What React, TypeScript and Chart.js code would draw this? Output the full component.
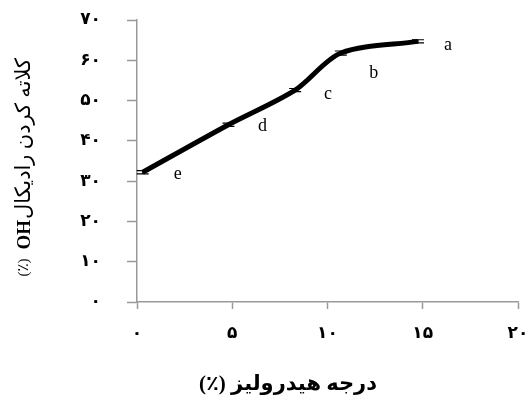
import React, { useEffect, useRef } from "react";
import { Chart, registerables } from "chart.js";

Chart.register(...registerables);

const hydrolysis = [0.3, 4.8, 8.3, 10.7, 14.75];
const chelating = [32.2, 44.0, 52.6, 61.8, 64.7];
const errors = [0.4, 0.4, 0.4, 0.5, 0.4];
const pointLabels = ["e", "d", "c", "b", "a"];
const labelOffsets = [[35, 2], [34, 2], [33, 4], [33, 20], [30, 4]];
const xTickLabels: Record<number, string> = { 0: "۰", 5: "۵", 10: "۱۰", 15: "۱۵", 20: "۲۰" };
const yTickLabels: Record<number, string> = { 0: "۰", 10: "۱۰", 20: "۲۰", 30: "۳۰", 40: "۴۰", 50: "۵۰", 60: "۶۰", 70: "۷۰" };
const xTitle = "درجه هیدرولیز (٪)";
const yTitleText = "کلاته کردن رادیکال";
const yTitleOH = "OH";
const yTitleUnit = "(٪)";

const FONT = "'Liberation Serif', 'DejaVu Sans', serif";

const overlay = {
  id: "overlay",
  afterDatasetsDraw(chart: any) {
    const ctx = chart.ctx;
    const xs = chart.scales.x;
    const ys = chart.scales.y;
    ctx.save();
    ctx.strokeStyle = "#000";
    ctx.lineWidth = 1.2;
    hydrolysis.forEach((xv, i) => {
      const px = xs.getPixelForValue(xv);
      const top = ys.getPixelForValue(chelating[i] + errors[i]);
      const bot = ys.getPixelForValue(chelating[i] - errors[i]);
      ctx.beginPath();
      ctx.moveTo(px - 6, top); ctx.lineTo(px + 6, top);
      ctx.moveTo(px - 6, bot); ctx.lineTo(px + 6, bot);
      ctx.moveTo(px, top); ctx.lineTo(px, bot);
      ctx.stroke();
    });
    ctx.fillStyle = "#000";
    ctx.font = "18px 'Liberation Serif', serif";
    ctx.textAlign = "center";
    ctx.textBaseline = "middle";
    hydrolysis.forEach((xv, i) => {
      const px = xs.getPixelForValue(xv);
      const py = ys.getPixelForValue(chelating[i]);
      ctx.fillText(pointLabels[i], px + labelOffsets[i][0], py + labelOffsets[i][1]);
    });
    // x title
    ctx.save();
    ctx.direction = "rtl";
    ctx.font = "bold 21px " + FONT;
    ctx.fillText(xTitle, 288, 385);
    ctx.restore();
    // y title (rotated), pieces laid end to end
    ctx.translate(24, 165);
    ctx.rotate(-Math.PI / 2);
    let rx = 107;
    ctx.direction = "rtl";
    ctx.textAlign = "right";
    ctx.font = "21px " + FONT;
    const w1 = ctx.measureText(yTitleText).width;
    ctx.fillText(yTitleText, rx, 0);
    rx -= w1 + 1;
    ctx.direction = "ltr";
    ctx.textAlign = "right";
    ctx.font = "bold 19px 'Liberation Serif', serif";
    const w2 = ctx.measureText(yTitleOH).width;
    ctx.fillText(yTitleOH, rx, 1);
    rx -= w2 + 9;
    ctx.font = "15px " + FONT;
    ctx.fillText(yTitleUnit, rx, 0);
    ctx.restore();
  },
};

export default function App() {
  const ref = useRef<HTMLCanvasElement>(null);
  useEffect(() => {
    if (!ref.current) return;
    const chart = new Chart(ref.current, {
      type: "line",
      data: {
        datasets: [
          {
            data: hydrolysis.map((x, i) => ({ x, y: chelating[i] })),
            borderColor: "#000",
            borderWidth: 5,
            pointRadius: 0,
            tension: 0.3,
            fill: false,
          },
        ],
      },
      options: {
        animation: false,
        responsive: false,
        maintainAspectRatio: false,
        layout: { padding: { top: 20, right: 10, left: 0, bottom: 0 } },
        plugins: { legend: { display: false }, tooltip: { enabled: false } },
        scales: {
          x: {
            type: "linear",
            min: 0,
            max: 20,
            afterFit: (s: any) => { s.height = 103; s.paddingLeft = 0; s.paddingRight = 0; },
            afterBuildTicks: (s: any) => { s.ticks = [0, 5, 10, 15, 20].map((v) => ({ value: v })); },
            grid: { display: true, drawOnChartArea: false, drawTicks: true, tickLength: 7, color: "#999", tickWidth: 1.5 },
            border: { display: true, color: "#999", width: 1.5 },
            ticks: {
              color: "#000",
              padding: 14,
              maxRotation: 0,
              font: { family: FONT, size: 17, weight: "bold" },
              callback: (v: any) => xTickLabels[v] ?? "",
            },
          },
          y: {
            type: "linear",
            min: 0,
            max: 70,
            afterFit: (s: any) => { s.width = 137; s.paddingTop = 0; s.paddingBottom = 0; },
            afterBuildTicks: (s: any) => { s.ticks = [0, 10, 20, 30, 40, 50, 60, 70].map((v) => ({ value: v })); },
            grid: { display: true, drawOnChartArea: false, drawTicks: true, tickLength: 10, color: "#999", tickWidth: 1.5 },
            border: { display: true, color: "#999", width: 1.5 },
            ticks: {
              color: "#000",
              padding: 26,
              font: { family: FONT, size: 17, weight: "bold" },
              callback: (v: any) => yTickLabels[v] ?? "",
            },
          },
        },
      },
      plugins: [overlay],
    });
    return () => chart.destroy();
  }, []);
  return (
    <div style={{ position: "fixed", left: 0, top: 0, width: 528, height: 405, background: "#fff" }}>
      <canvas ref={ref} width={528} height={405} style={{ width: 528, height: 405 }} />
    </div>
  );
}
